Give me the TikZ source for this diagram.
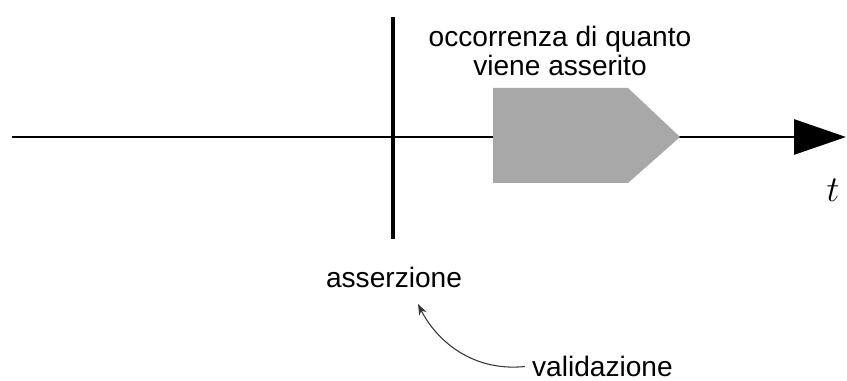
\documentclass[tikz,border=0pt]{standalone}
\usepackage{fontspec}
\setmainfont{Liberation Sans}
\usepackage{tikz}
\usetikzlibrary{arrows.meta}
\usetikzlibrary{calc,positioning}
\definecolor{evento}{RGB}{168,168,168}
\tikzset{%
  % Specifications for style of nodes:
  label/.style = {font=\fontsize{16}{17}\selectfont, align=center, inner sep=1pt},
  asse/.style = {line width=1.7pt, -{Triangle[length=10.4mm,width=7mm]}},
  istante/.style = {line width=2.6pt},
  nota/.style = {line width=0.6pt, -{Stealth[length=2.2mm,width=1.6mm]}, black!80},
}

\begin{document}
\begin{tikzpicture}[x=0.02cm,y=-0.02cm]
    \useasboundingbox (0,0) rectangle (847,381);
    % Specification of nodes (position, etc.)
    \coordinate (inizio) at (12,137);
    \coordinate (fine) at (846,137);
    \coordinate (su) at (393,17);
    \coordinate (giu) at (393,239);
    \node(occ)[label] at (560,51){occorrenza di quanto \\ viene asserito};
    \node(t) at (833,190){\fontsize{21}{21}\selectfont$t$};
    \node(ass)[label] at (394,277){asserzione};
    \node(val)[label,anchor=west] at (530,366){validazione};
    % axis, event and assertion
    \draw[asse](inizio) -- (fine);
    \fill[evento](493,88) -- (628,88) -- (680,137) -- (628,183) -- (493,183) -- cycle;
    \draw[istante](su) -- (giu);
    \draw[nota,shorten <=3pt](val.west) .. controls (470,372) and (435,338) .. (418,304);
\end{tikzpicture}
\end{document}
